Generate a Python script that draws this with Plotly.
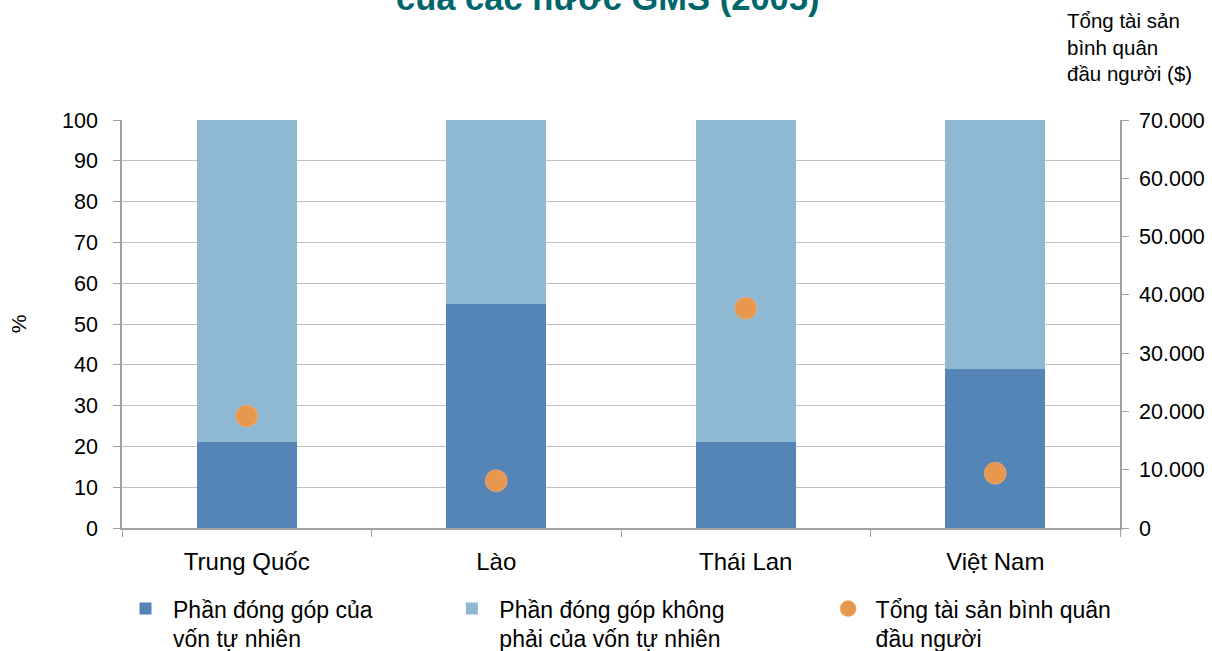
import plotly.graph_objects as go

# Data: share of natural capital in total wealth, and wealth per capita (2005)
countries = ["Trung Quốc", "Lào", "Thái Lan", "Việt Nam"]
natural_share = [21, 55, 21, 39]
non_natural_share = [100 - v for v in natural_share]
wealth_per_capita = [19200, 8100, 37700, 9400]

left_ticks = list(range(0, 101, 10))
right_ticks = list(range(0, 70001, 10000))
right_tick_text = ["0"] + [f"{v // 1000}.000" for v in right_ticks[1:]]

FONT = "Liberation Sans, Arial, sans-serif"
DARK = "#5584B7"
LIGHT = "#8FB8D3"
ORANGE = "#E8974F"
GRID = "#C0C0C0"
AXIS = "#A0A0A0"

fig = go.Figure()
fig.add_trace(go.Bar(
    x=countries, y=natural_share, name="Phần đóng góp của<br>vốn tự nhiên",
    marker=dict(color=DARK, line=dict(width=0)), width=0.4, legend="legend",
))
fig.add_trace(go.Bar(
    x=countries, y=non_natural_share, name="Phần đóng góp không<br>phải của vốn tự nhiên",
    marker=dict(color=LIGHT, line=dict(width=0)), width=0.4, legend="legend2",
))
fig.add_trace(go.Scatter(
    x=countries, y=wealth_per_capita, yaxis="y2", mode="markers",
    name="Tổng tài sản bình quân<br>đầu người",
    marker=dict(color=ORANGE, size=22, line=dict(width=1, color="rgba(240,180,130,0.6)")),
    legend="legend3",
))

legend_common = dict(
    font=dict(family=FONT, size=23, color="#000000"),
    bgcolor="rgba(0,0,0,0)", valign="top", yanchor="top", xanchor="left",
    y=-0.145, tracegroupgap=0, itemsizing="trace", itemwidth=45,
)

fig.update_layout(
    width=1212, height=651,
    margin=dict(l=122, r=92, t=120, b=123, autoexpand=False),
    paper_bgcolor="white", plot_bgcolor="white",
    barmode="stack", showlegend=True,
    font=dict(family=FONT, size=20, color="#000000"),
    xaxis=dict(
        type="category", tickson="boundaries", ticks="outside", ticklen=7,
        tickcolor=AXIS, showline=True, linecolor=AXIS, linewidth=1.5,
        showgrid=False, tickfont=dict(size=24), range=[-0.5, 3.5],
        ticklabelstandoff=11,
    ),
    yaxis=dict(
        range=[0, 100], tickvals=left_ticks, ticks="outside", ticklen=7,
        tickcolor=AXIS, showline=True, linecolor=AXIS, linewidth=1.5,
        gridcolor=GRID, gridwidth=1, zeroline=False, tickfont=dict(size=21.5),
        ticklabelstandoff=11,
        title=dict(text="%", font=dict(size=21), standoff=30),
    ),
    yaxis2=dict(
        range=[0, 70000], tickvals=right_ticks, ticktext=right_tick_text,
        overlaying="y", side="right", ticks="outside", ticklen=7,
        tickcolor=AXIS, showline=True, linecolor=AXIS, linewidth=1.5,
        showgrid=False, zeroline=False, tickfont=dict(size=21.5),
        ticklabelstandoff=6,
    ),
    legend=dict(x=-0.004, **legend_common),
    legend2=dict(x=0.323, **legend_common),
    legend3=dict(x=0.700, **legend_common),
    annotations=[
        dict(text="<b>của các nước GMS (2005)</b>", xref="paper", yref="paper",
             x=0.486, y=1.298, xanchor="center", yanchor="middle",
             showarrow=False, font=dict(family=FONT, size=34.5, color="#00666B")),
        dict(text="Tổng tài sản<br>bình quân<br>đầu người ($)", xref="paper", yref="paper",
             x=0.945, y=1.277, xanchor="left", yanchor="top", align="left",
             showarrow=False, font=dict(family=FONT, size=20.5, color="#000000")),
    ],
)

fig.write_html("out.html")
